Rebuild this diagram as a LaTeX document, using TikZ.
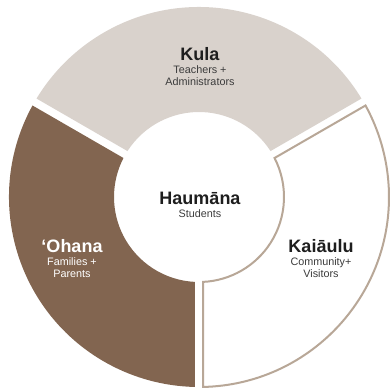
\documentclass[tikz,border=0pt]{standalone}
\usepackage{fontspec}
\setmainfont{Liberation Sans}
\usetikzlibrary{positioning, calc}
\definecolor{KulaBeige}{RGB}{217,210,204}
\definecolor{OhanaBraun}{RGB}{130,101,80}
\definecolor{KaiauluRand}{RGB}{184,167,151}
\definecolor{TextDunkel}{RGB}{30,30,30}
\definecolor{TextGrau}{RGB}{60,60,60}

\begin{document}
\begin{tikzpicture}[x=1pt, y=1pt,
    kulaseg/.style={fill=KulaBeige},
    ohanaseg/.style={fill=OhanaBraun},
    kaiauluseg/.style={draw=KaiauluRand, line width=2pt, fill=white},
    title/.style={font=\fontsize{18}{20}\selectfont\bfseries, inner sep=0},
    sub/.style={font=\fontsize{10.8}{12}\selectfont, align=center, inner sep=0}]
\useasboundingbox (0,0) rectangle (391,391);
\coordinate (O) at (199,194);
% three ring segments with gaps
\foreach \a/\sty in {30/kulaseg, 150/ohanaseg, 270/kaiauluseg}
{
    \pgfmathsetmacro{\sa}{\a+1.21}
    \pgfmathsetmacro{\ea}{\a+120-1.21}
    \pgfmathsetmacro{\si}{\a+120-2.7}
    \pgfmathsetmacro{\ei}{\a+2.7}
    \path[\sty] ($(O)+(\sa:190pt)$) arc[start angle=\sa, end angle=\ea, radius=190pt]
        -- ($(O)+(\si:85pt)$) arc[start angle=\si, end angle=\ei, radius=85pt] -- cycle;
}
\node[title, text=TextDunkel] (kula) at (200,337) {Kula};
\node[sub, text=TextGrau, below=5pt of kula] (kulasub) {Teachers +\\Administrators};
\node[title, text=TextDunkel] (haumana) at (200,193) {Haumāna};
\node[sub, text=TextGrau, below=5pt of haumana] (haumanasub) {Students};
\node[title, text=white] (ohana) at (72,145) {‘Ohana};
\node[sub, text=white, below=5pt of ohana] (ohanasub) {Families +\\Parents};
\node[title, text=TextDunkel] (kaiaulu) at (321,145) {Kaiāulu};
\node[sub, text=TextGrau, below=5pt of kaiaulu] (kaiaulusub) {Community+\\Visitors};
\end{tikzpicture}
\end{document}
